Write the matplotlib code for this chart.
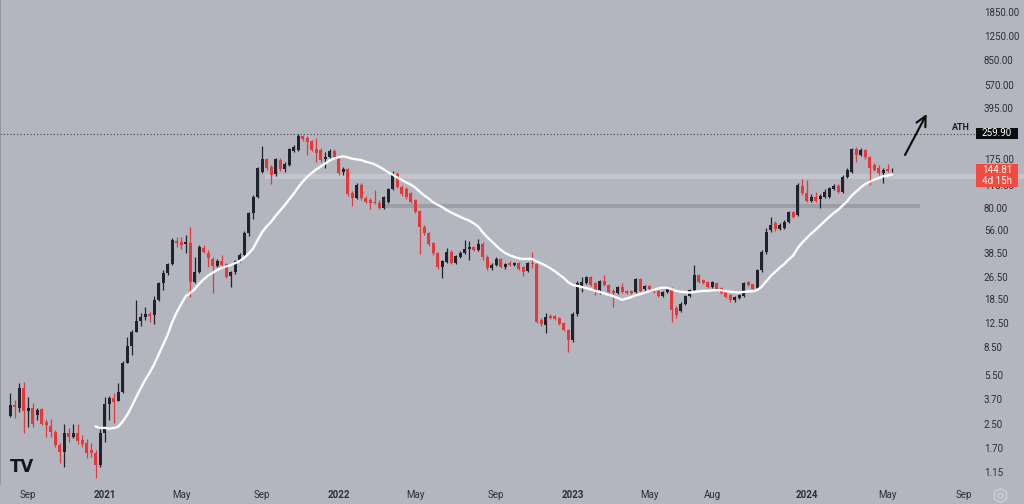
import matplotlib
matplotlib.use("Agg")
import matplotlib.pyplot as plt
import matplotlib.dates as mdates
from matplotlib.lines import Line2D
from matplotlib.patches import Rectangle
from matplotlib.ticker import FixedLocator, FuncFormatter, NullLocator
import numpy as np
import pandas as pd

plt.rcParams['font.family'] = ['Roboto', 'DejaVu Sans']

# weekly candles, first bar on 2020-08-10
first_week = '2020-08-10'

opens = [2.82, 3.38, 3.22, 4.43, 3.06, 3.22, 2.87, 3.17, 2.57, 2.41,
         2.19, 1.77, 1.59, 2.15, 2.02, 2.15, 1.92, 1.83, 1.64, 1.56,
         1.29, 2.15, 3.43, 3.77, 3.60, 4.15, 6.62, 8.70, 10.84, 12.99,
         13.84, 14.54, 14.31, 18.2, 23.9, 28.0, 32.5, 46.9, 46.2, 44.7,
         45.5, 24.3, 28.5, 41.9, 38.7, 35.1, 31.4, 34.0, 32.5, 26.7,
         28.5, 34.0, 37.5, 53.3, 73.5, 94.9, 141.8, 174.8, 153.6, 137.4,
         172, 148.8, 158.8, 198.8, 202, 252.8, 244.7, 233.3, 205.3, 202,
         174.8, 180.6, 198.8, 177.6, 141.8, 148.8, 101.3, 93.4, 115.2, 93.4,
         90.5, 87.6, 86.2, 79.5, 87.6, 108.0, 137.4, 111.4, 108.0, 101.3,
         90.5, 75.9, 58.7, 53.3, 45.5, 38.7, 30.9, 33.5, 39.3, 33.0,
         36.3, 38.7, 41.3, 42.6, 40.6, 44.7, 36.3, 30.4, 31.9, 35.1,
         30.9, 33.0, 31.9, 33.0, 30.9, 28.9, 33.0, 32.5, 13.2, 12.2,
         14.1, 14.1, 13.6, 12.6, 11.2, 9.58, 14.5, 22.8, 23.9, 26.3,
         23.9, 21.4, 24.7, 23.2, 21.1, 20.4, 22.4, 21.1, 21.0, 20.7,
         25.5, 21.7, 22.8, 21.7, 21.1, 19.4, 20.7, 22.1, 16.0, 15.3,
         17.1, 19.4, 21.4, 27.1, 25.1, 24.3, 22.4, 23.9, 22.1, 20.7,
         19.8, 18.2, 18.8, 19.4, 24.3, 23.5, 22.1, 29.4, 39.3, 55.9,
         62.6, 56.8, 57.7, 63.6, 74.6, 71.2, 113.4, 101.3, 89.0, 94.9,
         92.0, 94.9, 94.9, 108.0, 113.4, 102.9, 130.9, 141.8, 205.3, 186.4,
         202, 180.6, 158.8, 151.2, 139.6, 148.8, 144.2]

highs = [4.09, 3.66, 4.80, 4.88, 3.83, 3.49, 3.22, 3.22, 2.69, 2.69,
         2.26, 1.83, 2.49, 2.33, 2.49, 2.49, 2.09, 1.95, 1.83, 1.64,
         2.37, 3.83, 3.90, 4.09, 4.80, 6.84, 10.0, 11.2, 18.2, 14.77,
         16.26, 15.0, 19.4, 24.3, 29.4, 33.0, 49.3, 50.1, 50.1, 51.6,
         58.7, 36.3, 44.0, 44.0, 40.6, 36.3, 35.1, 37.5, 33.0, 28.9,
         34.6, 38.7, 55.0, 74.6, 98.1, 153.6, 215.3, 177.6, 158.8, 177.6,
         177.6, 166.5, 208.7, 218.8, 261.1, 256.9, 252.8, 237.1, 244.7, 208.7,
         195.5, 205.3, 205.3, 180.6, 153.6, 151.2, 104.6, 118.9, 118.9, 96.5,
         93.4, 106.3, 90.5, 96.5, 109.8, 144.2, 141.8, 115.2, 111.4, 102.9,
         92.0, 77.1, 60.6, 54.1, 46.2, 39.3, 34.6, 41.9, 40.6, 37.5,
         40.0, 47.7, 46.9, 43.3, 48.5, 46.2, 37.5, 33.0, 36.3, 35.7,
         33.0, 34.0, 33.5, 33.5, 31.4, 33.5, 39.3, 33.5, 13.6, 14.8,
         14.5, 14.3, 13.8, 12.8, 11.4, 15.0, 24.7, 26.3, 26.7, 26.7,
         24.3, 25.1, 27.1, 23.5, 21.7, 22.8, 23.9, 21.4, 21.4, 25.9,
         25.9, 23.2, 23.2, 22.1, 21.4, 21.1, 22.4, 22.4, 16.5, 17.6,
         19.8, 21.7, 31.9, 27.6, 25.5, 24.7, 24.7, 24.3, 22.4, 21.1,
         20.1, 19.4, 20.1, 24.3, 24.7, 23.5, 29.9, 40.6, 57.7, 68.9,
         64.6, 62.6, 65.7, 75.9, 75.9, 118.9, 126.8, 124.8, 99.7, 102.9,
         99.7, 108.0, 111.4, 117.1, 117.1, 135.2, 151.2, 208.7, 212.1, 208.7,
         205.3, 183.4, 163.9, 158.8, 151.2, 161.3, 151.2]

lows = [2.78, 2.73, 3.01, 2.15, 2.37, 2.37, 2.65, 2.45, 2.02, 2.02,
        1.71, 1.33, 1.25, 1.86, 1.99, 1.80, 1.71, 1.44, 1.46, 1.05,
        1.25, 1.86, 2.65, 2.53, 3.60, 4.09, 6.62, 7.53, 10.84, 11.99,
        13.2, 12.78, 12.38, 17.9, 21.4, 27.1, 31.9, 42.6, 41.3, 38.7,
        19.1, 23.9, 28.0, 38.7, 30.9, 20.4, 30.9, 31.4, 25.8, 22.4,
        27.6, 33.5, 37.0, 50.8, 66.7, 93.4, 139.6, 146.5, 117.1, 133.0,
        144.2, 141.8, 156.2, 195.5, 198.8, 233.3, 186.4, 198.8, 166.5, 166.5,
        151.2, 177.6, 174.8, 135.2, 135.2, 96.5, 82.2, 91.9, 90.5, 86.2,
        78.4, 84.9, 78.4, 78.4, 86.2, 106.3, 109.8, 96.5, 91.9, 86.2,
        73.4, 38.1, 51.6, 43.3, 37.5, 29.9, 25.8, 33.0, 32.5, 32.5,
        35.7, 38.1, 34.6, 40.0, 40.0, 34.6, 29.4, 29.4, 31.4, 30.4,
        29.9, 31.4, 31.4, 29.4, 26.7, 28.5, 30.4, 12.6, 12.0, 10.8,
        13.4, 13.2, 12.2, 11.0, 7.90, 9.27, 14.1, 20.7, 23.5, 22.8,
        19.8, 20.1, 22.8, 20.4, 16.3, 20.1, 20.4, 20.1, 20.1, 20.4,
        20.7, 21.1, 21.4, 20.4, 19.1, 19.1, 20.4, 12.8, 13.6, 15.0,
        16.8, 19.1, 21.1, 23.9, 23.5, 22.1, 22.1, 21.1, 20.1, 18.8,
        17.6, 17.6, 18.5, 19.1, 22.8, 21.4, 21.7, 28.5, 38.1, 54.1,
        55.0, 55.9, 56.8, 62.6, 67.8, 70.0, 98.1, 87.6, 87.6, 87.6,
        79.5, 93.4, 93.4, 106.3, 101.3, 101.3, 128.8, 139.6, 166.5, 183.4,
        174.8, 115.2, 144.2, 135.2, 118.9, 141.8, 141.8]

closes = [3.38, 3.27, 4.43, 3.06, 3.22, 2.49, 3.11, 2.49, 2.45, 2.19,
          1.77, 1.59, 2.15, 2.02, 2.15, 1.89, 1.80, 1.56, 1.56, 1.29,
          2.15, 3.43, 3.77, 3.54, 4.15, 6.62, 8.70, 10.84, 12.99, 13.84,
          14.54, 14.07, 18.2, 23.9, 28.0, 32.5, 47.7, 45.5, 44.0, 46.2,
          24.3, 28.5, 42.6, 39.3, 35.7, 31.4, 34.0, 31.9, 26.3, 28.5,
          34.0, 37.5, 53.3, 73.5, 94.9, 151.2, 174.8, 151.2, 135.2, 174.8,
          148.8, 161.3, 205.3, 211.7, 252.8, 240.8, 229.5, 202, 192.5, 172,
          180.6, 198.8, 177.6, 139.6, 148.8, 99.7, 93.4, 115.2, 93.4, 87.6,
          86.2, 86.2, 79.5, 94.9, 108.0, 139.6, 111.4, 99.7, 94.9, 87.6,
          74.6, 58.7, 53.3, 44.7, 38.7, 30.9, 34.0, 39.3, 33.0, 36.9,
          38.7, 41.3, 42.6, 40.6, 44.7, 36.3, 30.4, 31.9, 35.1, 30.9,
          32.5, 31.9, 33.0, 29.9, 28.5, 33.0, 32.5, 12.8, 12.4, 13.8,
          13.6, 13.4, 12.4, 11.2, 9.58, 14.5, 23.9, 24.3, 26.3, 23.2,
          21.4, 24.7, 23.2, 20.7, 20.4, 22.4, 20.7, 20.4, 20.5, 25.5,
          21.1, 22.8, 21.7, 20.7, 19.4, 20.7, 22.1, 15.5, 14.3, 17.1,
          19.4, 21.4, 27.1, 24.3, 23.9, 22.4, 24.3, 21.4, 20.4, 19.1,
          18.2, 19.1, 19.8, 23.9, 23.2, 21.7, 29.4, 39.3, 54.1, 60.6,
          56.8, 60.6, 63.6, 74.6, 69.0, 115.2, 101.3, 89.0, 94.9, 89.0,
          96.5, 102.9, 109.8, 113.4, 102.9, 130.9, 146.5, 205.3, 186.4, 202,
          180.6, 151.2, 146.5, 139.6, 146.5, 144.2, 144.81]

price_ticks = [1850, 1250, 850, 570, 395, 175, 115, 80, 56, 38.5, 26.5,
               18.5, 12.5, 8.5, 5.5, 3.7, 2.5, 1.7, 1.15]
time_ticks = ['2020-09-07', '2021-01-04', '2021-05-03', '2021-09-06', '2022-01-03',
              '2022-05-02', '2022-09-05', '2023-01-02', '2023-05-01', '2023-08-07',
              '2024-01-01', '2024-05-06', '2024-09-02']
time_labels = ['Sep', '2021', 'May', 'Sep', '2022', 'May', 'Sep', '2023',
               'May', 'Aug', '2024', 'May', 'Sep']

ath = 259.90
last_price = 144.81
sr_zone = (127, 137)      # light band
support_zone = (79.5, 85)  # dark band

bg = '#b3b6be'
up_col = '#20232b'
down_col = '#e4393a'

dates = mdates.date2num(pd.date_range(first_week, periods=len(closes), freq='7D'))
o = np.array(opens)
c = np.array(closes)
colors = np.where(c >= o, up_col, down_col)
ma = pd.Series(closes).rolling(20).mean()

fig = plt.figure(figsize=(10.24, 5.04), dpi=100, facecolor=bg)
ax = fig.add_axes([0, 20 / 504, 1, 484 / 504], facecolor=bg)
ax.set_yscale('log')
ax.set_ylim(0.95, 2243)
ax.set_xlim(dates[0] - 15.6, dates[0] + 1577.3)

# zones
ax.fill_between([mdates.datestr2num('2021-09-10'), dates[0] + 1580],
                sr_zone[0], sr_zone[1], color='#c3c5cc', lw=0, zorder=1)
ax.fill_between([mdates.datestr2num('2022-03-16'), mdates.datestr2num('2024-06-25')],
                support_zone[0], support_zone[1], color='#9b9ea6', lw=0, zorder=1)

# candles
ax.vlines(dates, lows, highs, colors=colors, lw=0.9, zorder=2)
ax.bar(dates, np.abs(c - o), bottom=np.minimum(o, c), width=4.6,
       color=colors, lw=0, zorder=3)

ax.plot(dates, ma, color='white', lw=1.7, zorder=4, solid_capstyle='round')

# ATH line and labels
ax.axhline(ath, xmin=0, xmax=976 / 1024, color='#3a3d45', lw=0.8,
           ls=(0, (1, 2)), zorder=2)
ax.text(961 / 1024, 1 - 127 / 484, 'ATH', transform=ax.transAxes, ha='center',
        va='center', fontsize=6.5, fontweight='bold', color='#1a1c22', zorder=6)
ax.add_patch(Rectangle((976 / 1024, 1 - 139 / 484), 42 / 1024, 11 / 484,
                       transform=ax.transAxes, color='#0c0d10', lw=0, zorder=5))
ax.text(997 / 1024, 1 - 133.5 / 484, f'{ath:.2f}', transform=ax.transAxes,
        ha='center', va='center', fontsize=7, color='white', zorder=6)
ax.add_patch(Rectangle((976 / 1024, 1 - 187 / 484), 42 / 1024, 23 / 484,
                       transform=ax.transAxes, color='#f14b3f', lw=0, zorder=5))
ax.text(997 / 1024, 1 - 170 / 484, f'{last_price:.2f}', transform=ax.transAxes,
        ha='center', va='center', fontsize=7, color='white', zorder=6)
ax.text(997 / 1024, 1 - 181 / 484, '4d 15h', transform=ax.transAxes,
        ha='center', va='center', fontsize=7, color='white', zorder=6)

# hand drawn arrow
ax.annotate('', xy=(926.7 / 1024, 1 - 114 / 484), xytext=(905 / 1024, 1 - 155 / 484),
            xycoords='axes fraction', textcoords='axes fraction',
            arrowprops=dict(arrowstyle='->', lw=1.5, color='#0a0a0a',
                            mutation_scale=18, shrinkA=0, shrinkB=0), zorder=6)

# logo
ax.text(0.010, 0.025, 'TV', transform=ax.transAxes, fontsize=12,
        fontweight='heavy', color='#131722', family='DejaVu Sans', zorder=6)

# axes
ax.yaxis.tick_right()
ax.yaxis.set_major_locator(FixedLocator(price_ticks))
ax.yaxis.set_minor_locator(NullLocator())
ax.yaxis.set_major_formatter(FuncFormatter(lambda v, _: f'{v:.2f}'))
ax.tick_params(axis='y', length=0, pad=-28.8, labelsize=7, labelcolor='#2a2e39')

ax.set_xticks(mdates.datestr2num(time_ticks), time_labels)
ax.tick_params(axis='x', length=0, pad=4, labelsize=7, labelcolor='#2a2e39')
for lbl in ax.get_xticklabels():
    if lbl.get_text().isdigit():
        lbl.set_fontweight('bold')

for side in ['top', 'right', 'bottom']:
    ax.spines[side].set_visible(False)
ax.spines['left'].set_color('#8d9098')
ax.spines['left'].set_linewidth(1.2)

# settings icon
fig.add_artist(Line2D([1000 / 1024], [9 / 504], marker='h', markersize=10,
                      mfc='none', mec='#cdd0d6', mew=1, transform=fig.transFigure))
fig.add_artist(Line2D([1000 / 1024], [9 / 504], marker='o', markersize=3.5,
                      mfc='none', mec='#cdd0d6', mew=1, transform=fig.transFigure))

fig.savefig('out.png', dpi=100, facecolor=bg)
